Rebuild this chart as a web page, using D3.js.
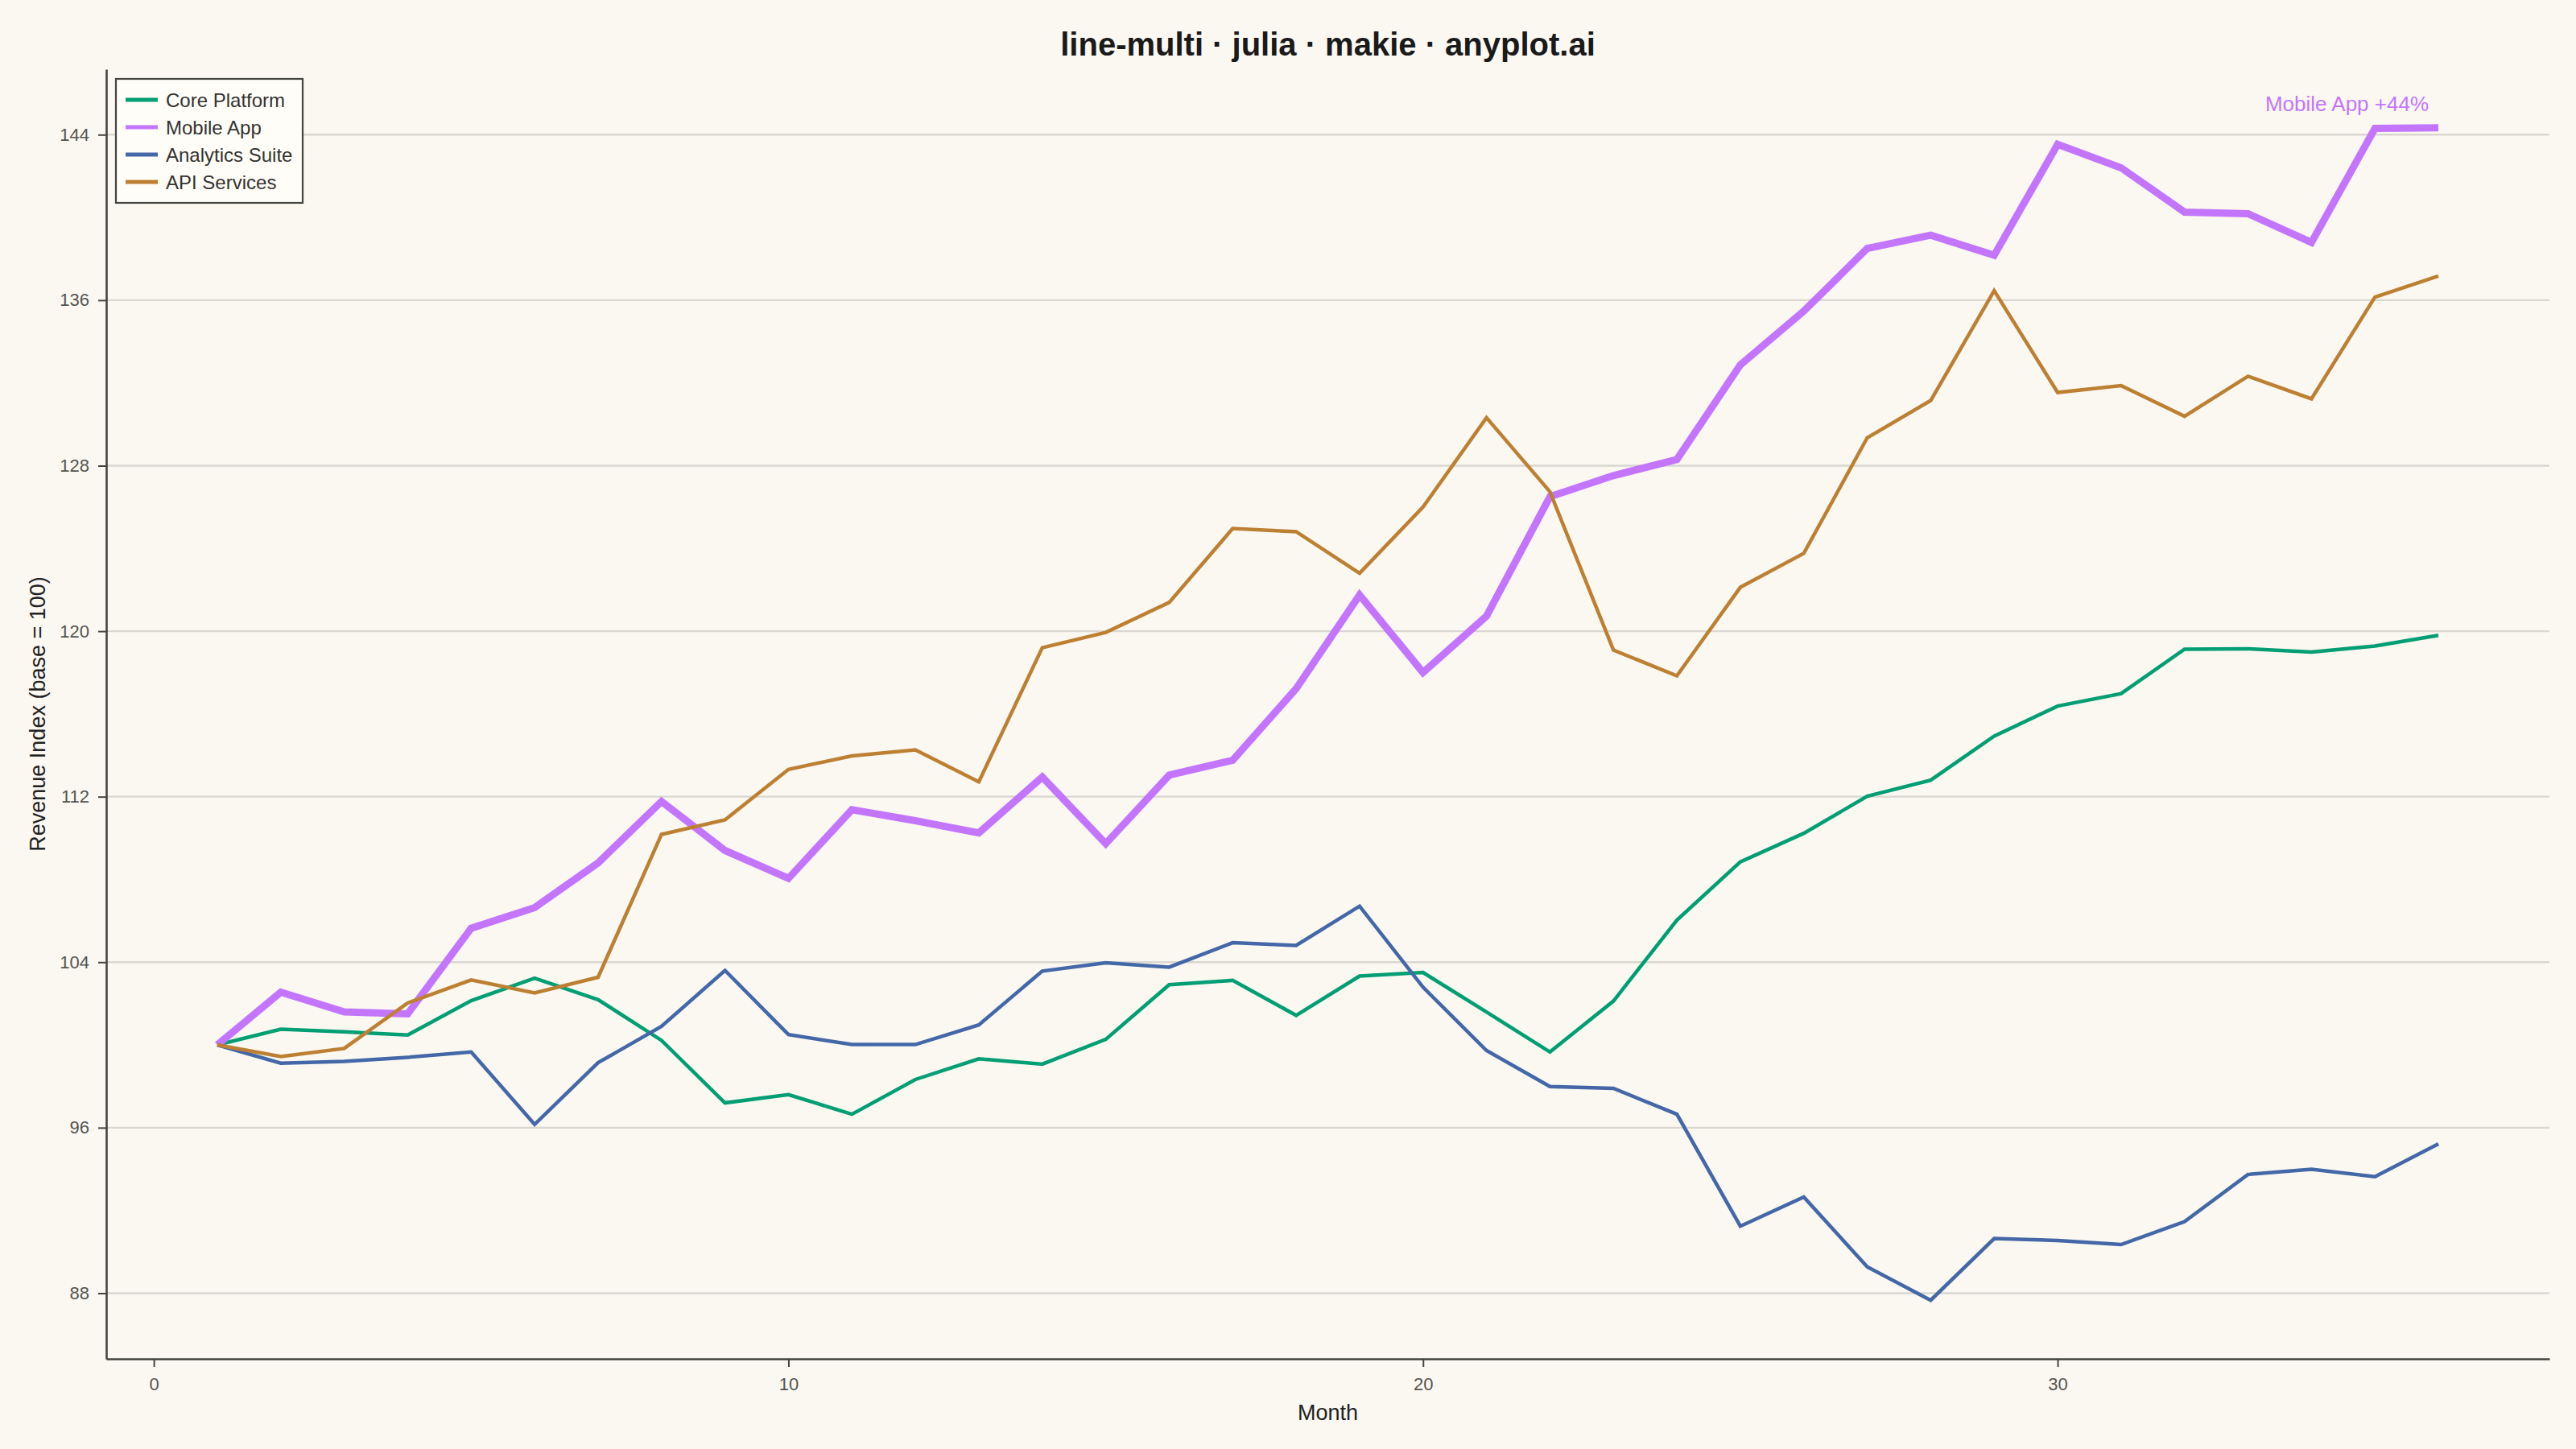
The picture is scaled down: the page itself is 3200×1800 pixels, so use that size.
<!DOCTYPE html>
<html>
<head>
<meta charset="utf-8">
<script src="https://cdn.jsdelivr.net/npm/d3@7"></script>
<style>
  html, body { margin: 0; padding: 0; background: #FAF8F1; }
  svg { display: block; font-family: "Liberation Sans", "Helvetica", Arial, sans-serif; }
</style>
</head>
<body>
<svg id="chart" width="3200" height="1800"></svg>
<script>
// Monthly revenue index (base = 100), months 1..36
const months = d3.range(1, 37);

const corePlatform = [100, 100.76, 100.63, 100.48, 102.14, 103.23, 102.19, 100.22, 97.2, 97.6,
  96.65, 98.33, 99.33, 99.07, 100.27, 102.91, 103.12, 101.43, 103.33, 103.5,
  101.59, 99.66, 102.12, 106.03, 108.85, 110.23, 112.02, 112.8, 114.93, 116.38,
  116.98, 119.13, 119.15, 118.99, 119.28, 119.8];

const mobileApp = [100, 102.55, 101.6, 101.5, 105.64, 106.64, 108.8, 111.77, 109.4, 108.05,
  111.37, 110.84, 110.25, 112.95, 109.73, 113.04, 113.76, 117.22, 121.75, 118.0,
  120.73, 126.5, 127.52, 128.3, 132.87, 135.47, 138.5, 139.14, 138.17, 143.53,
  142.4, 140.26, 140.18, 138.79, 144.3, 144.33];

const analyticsSuite = [100, 99.12, 99.2, 99.4, 99.66, 96.16, 99.14, 100.9, 103.6, 100.5,
  100.02, 100.02, 100.97, 103.57, 103.97, 103.76, 104.94, 104.81, 106.71, 102.79,
  99.73, 97.99, 97.9, 96.65, 91.24, 92.65, 89.27, 87.66, 90.64, 90.55,
  90.35, 91.46, 93.74, 93.99, 93.63, 95.22];

const apiServices = [100, 99.44, 99.83, 102.03, 103.14, 102.51, 103.27, 110.18, 110.88, 113.32,
  113.97, 114.26, 112.72, 119.2, 119.94, 121.39, 124.96, 124.81, 122.8, 126.0,
  130.32, 126.74, 119.09, 117.84, 122.12, 123.76, 129.35, 131.15, 136.46, 131.54,
  131.87, 130.39, 132.32, 131.23, 136.15, 137.17];

const seriesNames = ["Core Platform", "Mobile App", "Analytics Suite", "API Services"];
const seriesValues = [corePlatform, mobileApp, analyticsSuite, apiServices];
const seriesColors = ["#009E73", "#C475FD", "#4467A8", "#BD8033"];
const highlighted = "Mobile App";

const xTicks = [0, 10, 20, 30];
const yTicks = [88, 96, 104, 112, 120, 128, 136, 144];

const titleText = "line-multi · julia · makie · anyplot.ai";
const xLabel = "Month";
const yLabel = "Revenue Index (base = 100)";

// layout
const plot = { left: 132, right: 3167, top: 86, bottom: 1688 };

const svg = d3.select("#chart");
svg.append("rect").attr("width", 3200).attr("height", 1800).attr("fill", "#FAF8F1");

// 5% padding on data extent, like Makie autolimits
function padded(ext) {
  const pad = (ext[1] - ext[0]) * 0.05;
  return [ext[0] - pad, ext[1] + pad];
}
const allValues = seriesValues.flat();

const x = d3.scaleLinear()
  .domain(padded(d3.extent(months)))
  .range([plot.left, plot.right]);

const y = d3.scaleLinear()
  .domain(padded(d3.extent(allValues)))
  .range([plot.bottom, plot.top]);

// horizontal grid
svg.append("g")
  .selectAll("line")
  .data(yTicks)
  .join("line")
  .attr("x1", plot.left).attr("x2", plot.right)
  .attr("y1", d => y(d)).attr("y2", d => y(d))
  .attr("stroke", "#D9D7D0")
  .attr("stroke-width", 2.4);

// axes
const axisColor = "#45453F";

const yAxis = svg.append("g")
  .attr("transform", `translate(${plot.left},0)`)
  .call(d3.axisLeft(y).tickValues(yTicks).tickSize(10).tickSizeOuter(0).tickPadding(11));

const xAxis = svg.append("g")
  .attr("transform", `translate(0,${plot.bottom})`)
  .call(d3.axisBottom(x).tickValues(xTicks).tickSize(10).tickSizeOuter(0).tickPadding(13));

[xAxis, yAxis].forEach(g => {
  g.select(".domain").attr("stroke", axisColor).attr("stroke-width", 2.6);
  g.selectAll(".tick line").attr("stroke", axisColor).attr("stroke-width", 2);
  g.selectAll(".tick text")
    .attr("fill", "#555550")
    .attr("font-size", 22)
    .attr("font-family", "Liberation Sans, Helvetica, Arial, sans-serif");
});

// lines
const line = d3.line()
  .x((d, i) => x(months[i]))
  .y(d => y(d));

svg.append("g")
  .selectAll("path")
  .data(seriesValues)
  .join("path")
  .attr("d", d => line(d))
  .attr("fill", "none")
  .attr("stroke", (d, i) => seriesColors[i])
  .attr("stroke-width", (d, i) => seriesNames[i] === highlighted ? 9 : 4.5)
  .attr("stroke-linejoin", "miter");

// annotation for highlighted series
const hi = seriesNames.indexOf(highlighted);
const hiLast = seriesValues[hi][seriesValues[hi].length - 1];
const hiGain = Math.round(hiLast - seriesValues[hi][0]);
svg.append("text")
  .attr("x", x(months[months.length - 1]) - 12)
  .attr("y", y(hiLast) - 21)
  .attr("text-anchor", "end")
  .attr("font-size", 26)
  .attr("fill", seriesColors[hi])
  .text(`${highlighted} +${hiGain}%`);

// title and axis labels
svg.append("text")
  .attr("x", (plot.left + plot.right) / 2)
  .attr("y", 69)
  .attr("text-anchor", "middle")
  .attr("font-size", 40)
  .attr("font-weight", "bold")
  .attr("fill", "#1A1A1A")
  .text(titleText);

svg.append("text")
  .attr("x", (plot.left + plot.right) / 2)
  .attr("y", 1764)
  .attr("text-anchor", "middle")
  .attr("font-size", 27)
  .attr("fill", "#222222")
  .text(xLabel);

svg.append("text")
  .attr("transform", `translate(56,${(plot.top + plot.bottom) / 2}) rotate(-90)`)
  .attr("text-anchor", "middle")
  .attr("font-size", 27)
  .attr("fill", "#222222")
  .text(yLabel);

// legend
const legend = svg.append("g").attr("transform", "translate(144,98)");
legend.append("rect")
  .attr("width", 232).attr("height", 154)
  .attr("fill", "#FFFDF7")
  .attr("stroke", "#444440")
  .attr("stroke-width", 2.2);

const entry = legend.selectAll("g.entry")
  .data(seriesNames)
  .join("g")
  .attr("class", "entry")
  .attr("transform", (d, i) => `translate(0,${26 + i * 34})`);

entry.append("line")
  .attr("x1", 12).attr("x2", 52)
  .attr("stroke", (d, i) => seriesColors[i])
  .attr("stroke-width", 5);

entry.append("text")
  .attr("x", 62)
  .attr("y", 9)
  .attr("font-size", 24)
  .attr("fill", "#333330")
  .text(d => d);
</script>
</body>
</html>
